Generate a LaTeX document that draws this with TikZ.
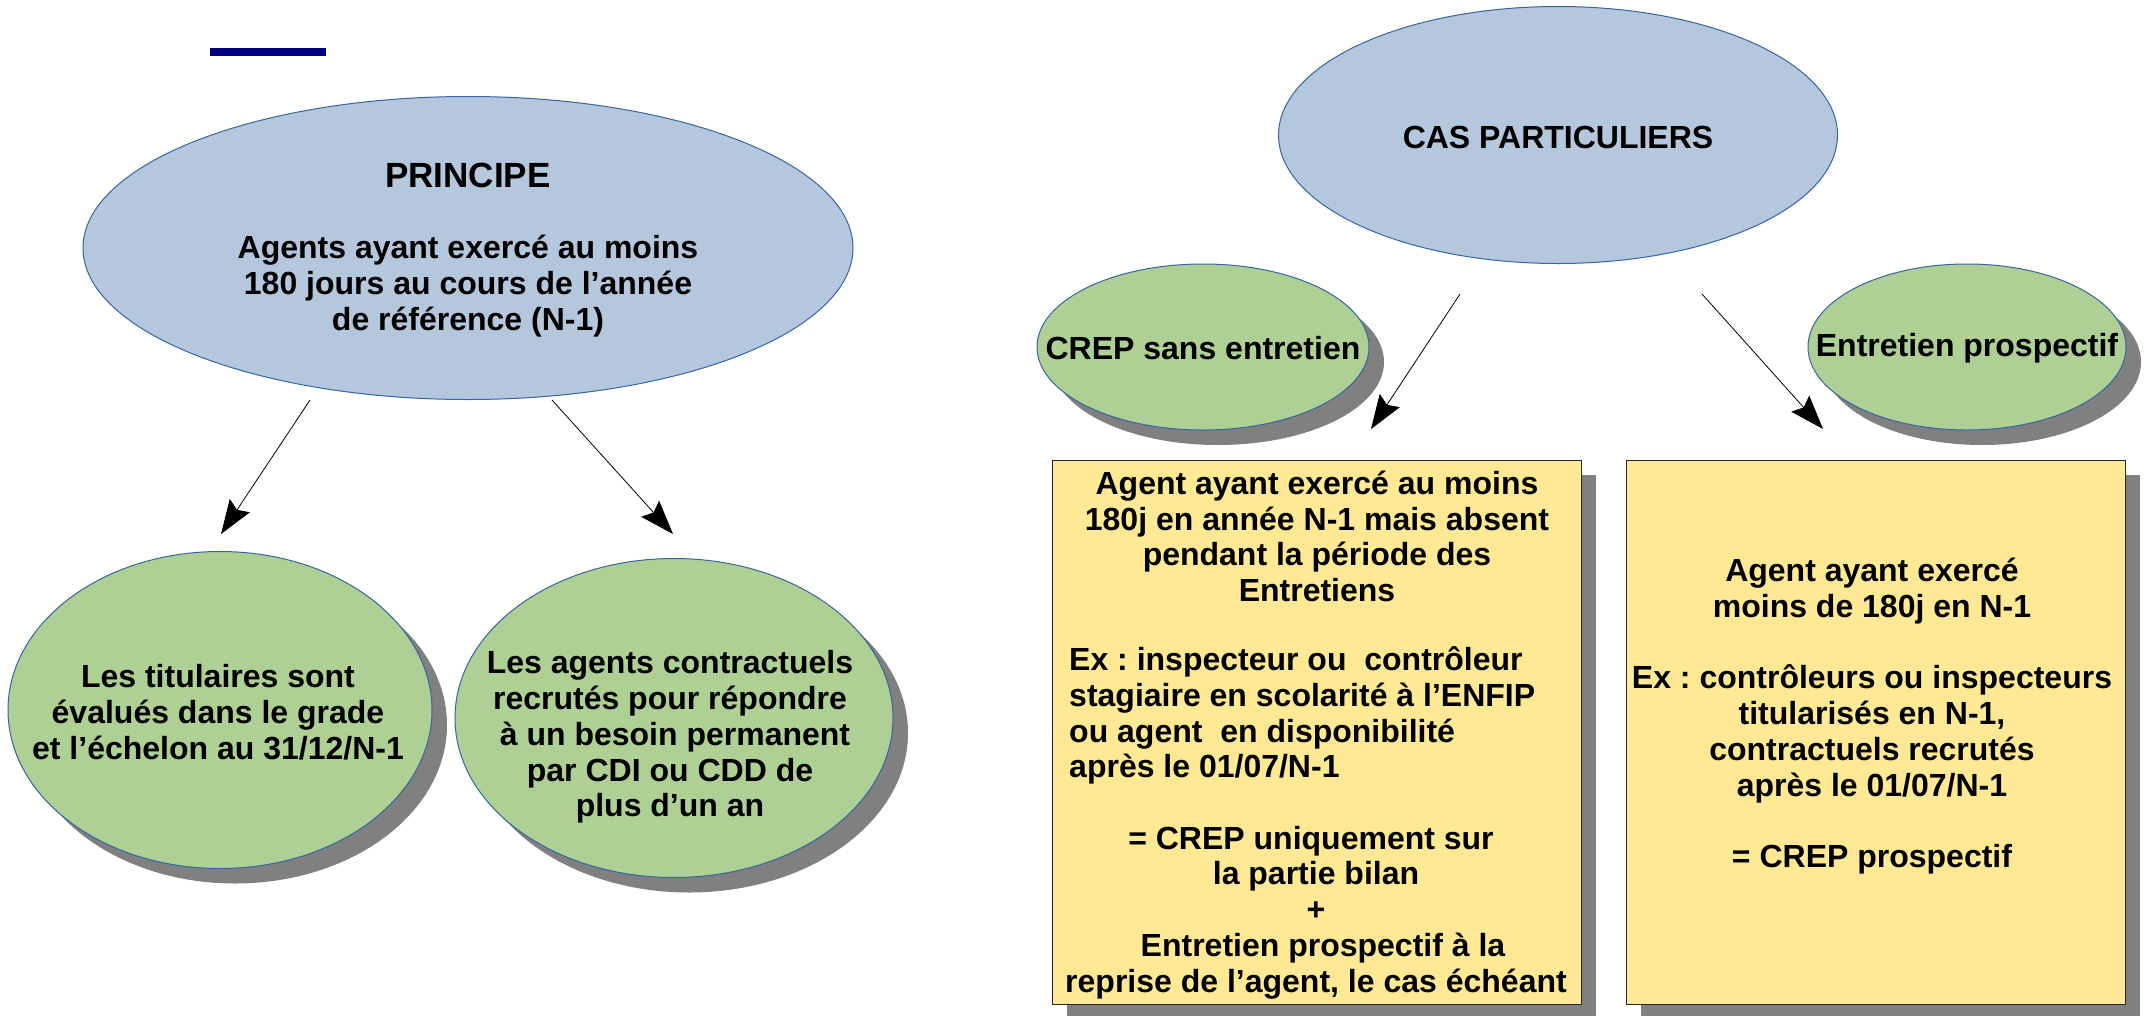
\documentclass[tikz,border=0pt]{standalone}
\usepackage{fontspec}
\setmainfont{Liberation Sans}
\usetikzlibrary{shapes.geometric,shadows,arrows.meta}
\frenchspacing

\definecolor{bluefill}{HTML}{B4C7DC}
\definecolor{blueline}{HTML}{3465A4}
\definecolor{greenfill}{HTML}{AFD095}
\definecolor{yellowfill}{HTML}{FFE994}
\definecolor{shadowgray}{HTML}{808080}
\definecolor{navybar}{HTML}{000080}

\begin{document}
\begin{tikzpicture}[x=1pt,y=-1pt,
  txt/.style={font=\fontsize{32}{35.8}\selectfont\bfseries, align=center, inner sep=0pt, text=black},
  graycast/.style={drop shadow={shadow xshift=15pt, shadow yshift=-15pt, fill=shadowgray, opacity=1}},
  bluebubble/.style={ellipse, draw=blueline, line width=1pt, fill=bluefill, inner sep=0pt},
  greenbubble/.style={ellipse, draw=blueline, line width=1pt, fill=greenfill, inner sep=0pt, graycast},
  notebox/.style={rectangle, draw=black!85, line width=1pt, fill=yellowfill, inner sep=0pt, graycast},
  link/.style={-{Stealth[length=34pt,width=24pt,inset=5pt]}, line width=0.8pt, black}
]
\fill[white] (0,0) rectangle (2154,1015);
\useasboundingbox (0,0) rectangle (2154,1015);

% small title bar
\fill[navybar] (210,48) rectangle (326,56);

% ---- left part: general rule ----
\node[bluebubble, minimum width=770pt, minimum height=303pt] (principe) at (468,248) {};
\node[txt] (principeText) at (468,250) {{\fontsize{35}{35.8}\selectfont PRINCIPE}\\[35.8pt]Agents ayant exercé au moins\\180 jours au cours de l’année\\de référence (N-1)};

\node[greenbubble, minimum width=424pt, minimum height=317pt] (titulaires) at (220,710) {};
\node[txt] (titulairesText) at (218,712) {Les titulaires sont\\évalués dans le grade\\et l’échelon au 31/12/N-1};

\node[greenbubble, minimum width=438pt, minimum height=319pt] (contractuels) at (674,718) {};
\node[txt] (contractuelsText) at (670,737) {Les agents contractuels\\recrutés pour répondre\\\hspace*{10pt}à un besoin permanent\\par CDI ou CDD de\\plus d’un an};

\coordinate (pA) at (310,400);
\coordinate (pAend) at (221,534);
\coordinate (pB) at (552,400);
\coordinate (pBend) at (673,534);
\draw[link] (pA) -- (pAend);
\draw[link] (pB) -- (pBend);

% ---- right part: special cases ----
\node[bluebubble, minimum width=559pt, minimum height=257pt] (cas) at (1558,135) {};
\node[txt] (casText) at (1558,137) {CAS PARTICULIERS};

\node[greenbubble, minimum width=332pt, minimum height=166pt] (sansEntretien) at (1203,347) {};
\node[txt] (sansEntretienText) at (1203,348) {CREP sans entretien};

\node[greenbubble, minimum width=318pt, minimum height=166pt] (prospectif) at (1967,347) {};
\node[txt] (prospectifText) at (1967,348) {Entretien prospectif};

\coordinate (cA) at (1460,294);
\coordinate (cAend) at (1371,429);
\coordinate (cB) at (1702,294);
\coordinate (cBend) at (1823,429);
\draw[link] (cA) -- (cAend);
\draw[link] (cB) -- (cBend);

% yellow note boxes
\node[notebox, minimum width=529pt, minimum height=544pt] (boxAbsent) at (1316.5,732) {};
\node[txt] (absentTop) at (1317,536.5) {Agent ayant exercé au moins\\180j en année N-1 mais absent\\pendant la période des\\Entretiens};
\node[txt, align=left, anchor=west] (absentEx) at (1069,715.5) {Ex : inspecteur ou~ contrôleur\\stagiaire en scolarité à l’ENFIP\\ou agent~ en disponibilité\\après le 01/07/N-1};
\node[txt] (absentBottom) at (1316,912.5) {= CREP uniquement sur\hspace*{10pt}\\la partie bilan\\+\\\hspace*{14pt}Entretien prospectif à la\\reprise de l’agent, le cas échéant};

\node[notebox, minimum width=499pt, minimum height=544pt] (boxMoins) at (1875.5,732) {};
\node[txt] (moinsText) at (1872,716) {Agent ayant exercé\\moins de 180j en N-1\\[35.8pt]Ex : contrôleurs ou inspecteurs\\titularisés en N-1,\\contractuels recrutés\\après le 01/07/N-1\\[35.8pt]= CREP prospectif};
\end{tikzpicture}
\end{document}
